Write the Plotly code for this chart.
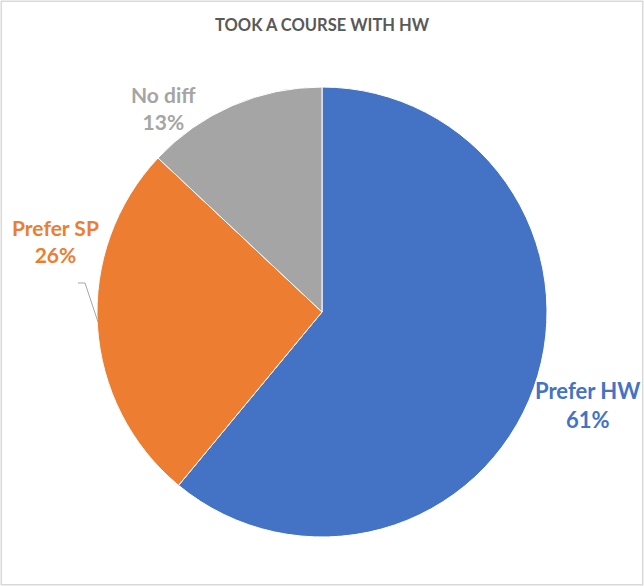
import plotly.graph_objects as go

labels = ["Prefer HW", "Prefer SP", "No diff"]
values = [61, 26, 13]
colors = ["#4472C4", "#ED7D31", "#A5A5A5"]
title_text = "TOOK A COURSE WITH HW"

W, H = 644, 586
cx, cy, R = 322, 312, 225

fig = go.Figure(go.Pie(
    labels=labels,
    values=values,
    sort=False,
    direction="clockwise",
    rotation=0,
    marker=dict(colors=colors, line=dict(color="white", width=1)),
    textinfo="none",
    hoverinfo="label+percent",
    domain=dict(x=[(cx - R) / W, (cx + R) / W], y=[1 - (cy + R) / H, 1 - (cy - R) / H]),
    showlegend=False,
))

# label positions (pixel, style)
label_pos = [(587, 405), (55, 241), (163, 108)]
label_sizes = [22, 21, 21]
annotations = []
for lab, val, col, (px, py), fs in zip(labels, values, colors, label_pos, label_sizes):
    annotations.append(dict(
        x=px / W, y=1 - py / H, xref="paper", yref="paper",
        text=f"<b>{lab}<br>{val}%</b>", showarrow=False,
        font=dict(family="Lato, Open Sans, sans-serif", size=fs, color=col),
        align="center", xanchor="center", yanchor="middle",
    ))
annotations.append(dict(
    x=322 / W, y=1 - 25 / H, xref="paper", yref="paper",
    text=f"<b>{title_text}</b>", showarrow=False,
    font=dict(family="Lato, Open Sans, sans-serif", size=16.5, color="#595959"),
    xanchor="center", yanchor="middle",
))

shapes = [
    dict(type="rect", xref="paper", yref="paper", x0=0.002, y0=0.002, x1=0.998, y1=0.998,
         line=dict(color="#D9D9D9", width=1.5)),
    dict(type="line", xref="paper", yref="paper",
         x0=78 / W, y0=1 - 283 / H, x1=85 / W, y1=1 - 283 / H,
         line=dict(color="#A6A6A6", width=1)),
    dict(type="line", xref="paper", yref="paper",
         x0=85 / W, y0=1 - 283 / H, x1=98 / W, y1=1 - 322 / H,
         line=dict(color="#A6A6A6", width=1)),
]

fig.update_layout(
    width=W, height=H,
    margin=dict(l=0, r=0, t=0, b=0),
    paper_bgcolor="white",
    annotations=annotations,
    shapes=shapes,
)

fig.write_html("out.html", config={"displayModeBar": False})

with open("out.html", "r", encoding="utf-8") as f:
    html = f.read()
html = html.replace("<head>", "<head><style>html,body{margin:0;padding:0;overflow:hidden;}</style>", 1)
with open("out.html", "w", encoding="utf-8") as f:
    f.write(html)
